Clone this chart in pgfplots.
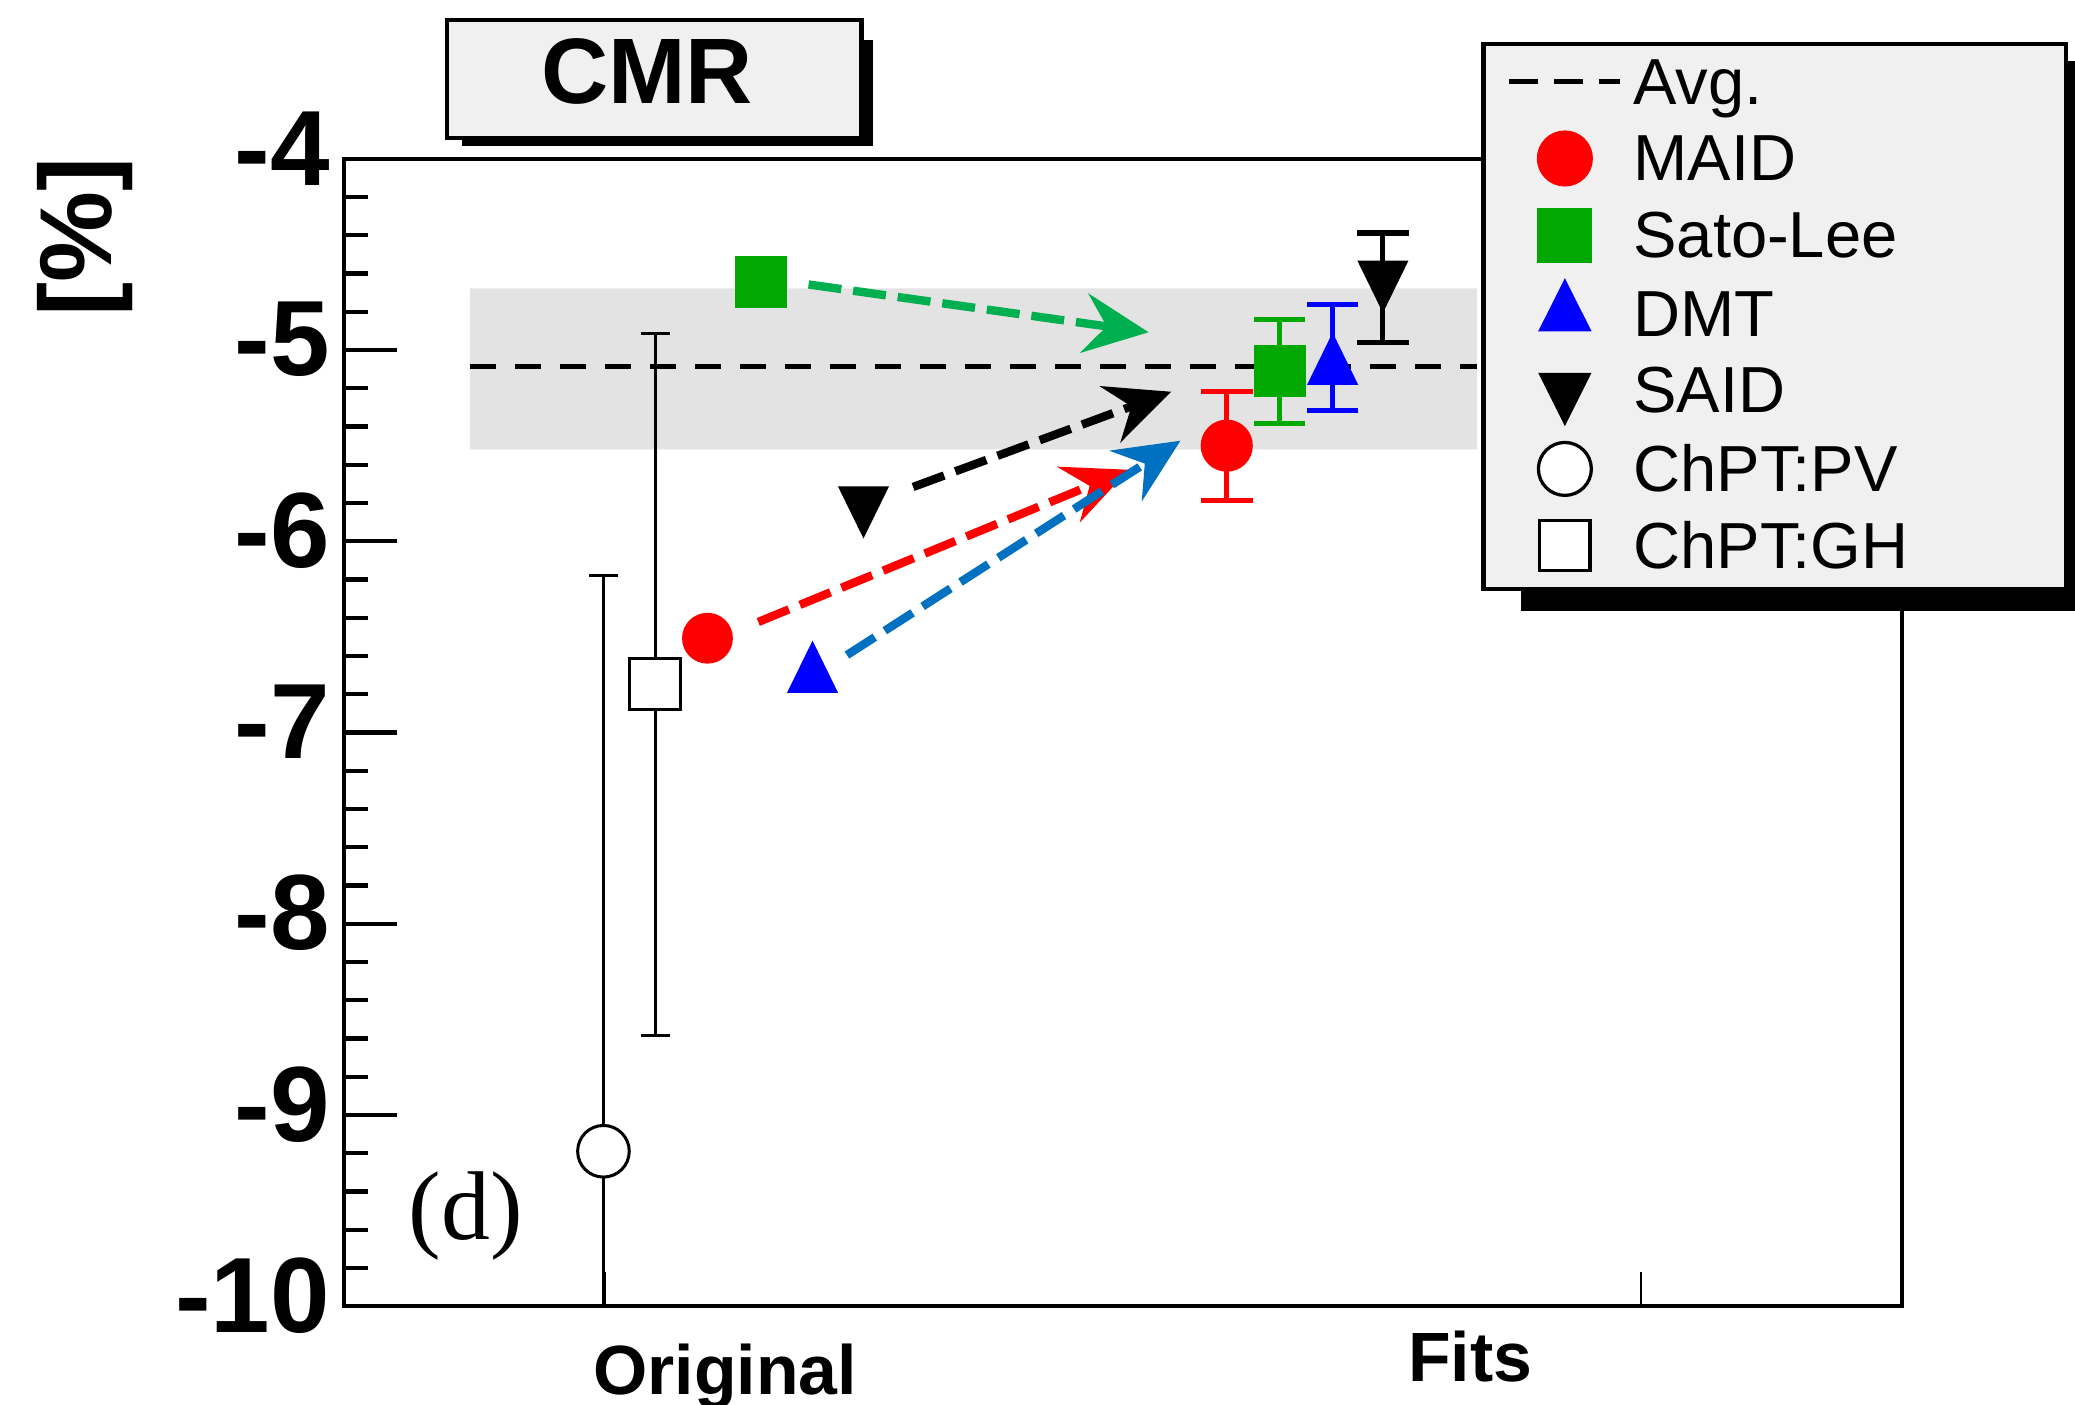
\documentclass[border=0pt]{standalone}
\usepackage{pgfplots}
\pgfplotsset{compat=1.18}
\usepackage{fontspec}
\setmainfont{Liberation Sans}
\newfontfamily\timesfont{Liberation Serif}
\usetikzlibrary{arrows.meta}

\definecolor{mygreen}{RGB}{0,168,0}
\definecolor{argreen}{RGB}{0,176,80}
\definecolor{arblue}{RGB}{0,112,192}
\definecolor{bandgray}{RGB}{227,227,227}
\definecolor{boxgray}{RGB}{240,240,240}

\pgfplotsset{
  legimg/.style={legend image code/.code={\draw[mark repeat=2,mark phase=2,##1] plot coordinates {(0mm,0mm)(4.2mm,0mm)(8.4mm,0mm)};}},
  arr/.style={line width=1.8pt, dash pattern=on 2.5mm off 0.9mm, -{Stealth[length=4.9mm,width=4.5mm,inset=1.7mm]}, forget plot},
  fiterr/.style={error bars/.cd, y dir=both, y explicit, error bar style={line width=1.1pt}, error mark options={rotate=90, mark size=1.95mm, line width=1.1pt}},
  chpterr/.style={error bars/.cd, y dir=both, y explicit, error bar style={line width=0.65pt}, error mark options={rotate=90, mark size=1.1mm, line width=0.65pt}},
}

\begin{document}
\begin{tikzpicture}
\begin{axis}[
  at={(26mm,7.4mm)}, anchor=south west,
  scale only axis, width=117.7mm, height=86.7mm,
  xmin=260, xmax=1437, ymin=-10, ymax=-4,
  clip=false,
  axis line style={line width=0.9pt},
  xtick=\empty,
  ytick={-10,-9,-8,-7,-6,-5,-4},
  yticklabels={-10,-9,-8,-7,-6,-5,-4},
  minor y tick num=4,
  ytick pos=left, tick align=inside,
  major tick length=4mm, minor tick length=1.8mm,
  every tick/.style={black, line width=0.9pt},
  yticklabel style={font=\fontsize{23pt}{23pt}\selectfont\bfseries, inner sep=0pt, xshift=-1mm, yshift=0.8mm},
  legend cell align=left,
  legend style={at={(0.746,1.0957)}, anchor=north west, draw=none, fill=none, inner sep=0pt,
    row sep=1mm, column sep=0.8mm, font=\fontsize{14pt}{16pt}\selectfont,
    nodes={inner sep=0pt, text height=4.1mm, text depth=0.7mm}},
]
% band and average
\addplot[draw=none, fill=bandgray, forget plot] coordinates {(355,-4.678) (1116,-4.678) (1116,-5.519) (355,-5.519) (355,-4.678)};
\addplot[black, line width=1pt, dash pattern=on 2mm off 1.4mm, forget plot] coordinates {(355,-5.087) (1116,-5.087)};

% arrows
\addplot[argreen, arr] coordinates {(611,-4.657) (868,-4.907)};
\addplot[black, arr] coordinates {(690,-5.716) (885,-5.218)};
\addplot[red, arr] coordinates {(573,-6.422) (853,-5.626)};
\addplot[arblue, arr] coordinates {(640,-6.595) (892,-5.474)};

% original values
\addplot[only marks, mark=*, red, mark size=1.85mm, forget plot] coordinates {(534.6,-6.507)};
\addplot[only marks, mark=square*, mygreen, mark size=1.87mm, forget plot] coordinates {(575,-4.644)};
\addplot[only marks, mark=triangle*, blue, mark size=2.1mm, mark options={yscale=1.18}, forget plot] coordinates {(614,-6.702)};
\addplot[only marks, mark=triangle*, black, mark size=2.1mm, mark options={rotate=180, yscale=1.18}, forget plot] coordinates {(652.5,-5.803)};

% ChPT
\addplot[only marks, mark=*, black, mark size=1.95mm, mark options={fill=white, draw=black, line width=0.65pt}, forget plot, chpterr] coordinates {(456,-9.19) += (0,3.01) -= (0,0.81)};
\addplot[only marks, mark=square*, black, mark size=1.95mm, mark options={fill=white, draw=black, line width=0.65pt}, forget plot, chpterr] coordinates {(495,-6.747) += (0,1.835) -= (0,1.84)};

% fits
\addplot[only marks, mark=*, red, mark size=1.9mm, forget plot, fiterr] coordinates {(927,-5.50) +- (0,0.285)};
\addplot[only marks, mark=square*, mygreen, mark size=1.9mm, forget plot, fiterr] coordinates {(967,-5.111) +- (0,0.273)};
\addplot[only marks, mark=triangle*, blue, mark size=2.1mm, mark options={yscale=1.18}, forget plot, fiterr] coordinates {(1007,-5.091) += (0,0.327) -= (0,0.224)};
\addplot[only marks, mark=triangle*, black, mark size=2.1mm, mark options={rotate=180, yscale=1.18}, forget plot, fiterr] coordinates {(1045,-4.623) += (0,0.235) -= (0,0.339)};

% x ticks
\draw[line width=0.6pt] (axis cs:457,-10) -- (axis cs:457,-9.82);
\draw[line width=0.6pt] (axis cs:1240,-10) -- (axis cs:1240,-9.82);

% legend box
\fill[black] (axis cs:1149,-6.367) rectangle (axis cs:1575,-3.488);
\draw[line width=0.9pt, fill=boxgray] (axis cs:1121,-6.249) rectangle (axis cs:1561,-3.398);

\addlegendimage{black, line width=1pt, dash pattern=on 2.2mm off 1.2mm, legimg}
\addlegendentry{Avg.}
\addlegendimage{only marks, mark=*, red, mark size=2.05mm, legimg}
\addlegendentry{MAID}
\addlegendimage{only marks, mark=square*, mygreen, mark size=2.0mm, legimg}
\addlegendentry{Sato-Lee}
\addlegendimage{only marks, mark=triangle*, blue, mark size=2.2mm, mark options={yscale=1.15}, legimg}
\addlegendentry{DMT}
\addlegendimage{only marks, mark=triangle*, black, mark size=2.2mm, mark options={rotate=180, yscale=1.15}, legimg}
\addlegendentry{SAID}
\addlegendimage{only marks, mark=*, black, mark size=2.0mm, mark options={fill=white, draw=black, line width=0.7pt}, legimg}
\addlegendentry{ChPT:PV}
\addlegendimage{only marks, mark=square*, black, mark size=1.9mm, mark options={fill=white, draw=black, line width=0.7pt}, legimg}
\addlegendentry{ChPT:GH}
\end{axis}

% title box
\fill[black] (34.9mm,95.1mm) rectangle (66.0mm,103.1mm);
\draw[line width=0.9pt, fill=boxgray] (33.8mm,95.7mm) rectangle (65.1mm,104.6mm);
\node[font=\fontsize{20pt}{20pt}\selectfont\bfseries] at (48.9mm,100.7mm) {CMR};

\node[rotate=90, font=\fontsize{22pt}{22pt}\selectfont\bfseries] at (6.4mm,88.2mm) {[\%]};
\node[anchor=base, font=\fontsize{15pt}{15pt}\selectfont\bfseries] at (54.8mm,0.7mm) {Original};
\node[anchor=base, font=\fontsize{15pt}{15pt}\selectfont\bfseries] at (111.1mm,1.7mm) {Fits};
\node[anchor=base, font=\fontsize{21pt}{21pt}\timesfont] at (35.2mm,12.4mm) {(d)};

\pgfresetboundingbox
\useasboundingbox (0,0) rectangle (156.8mm,106.1mm);
\end{tikzpicture}
\end{document}
